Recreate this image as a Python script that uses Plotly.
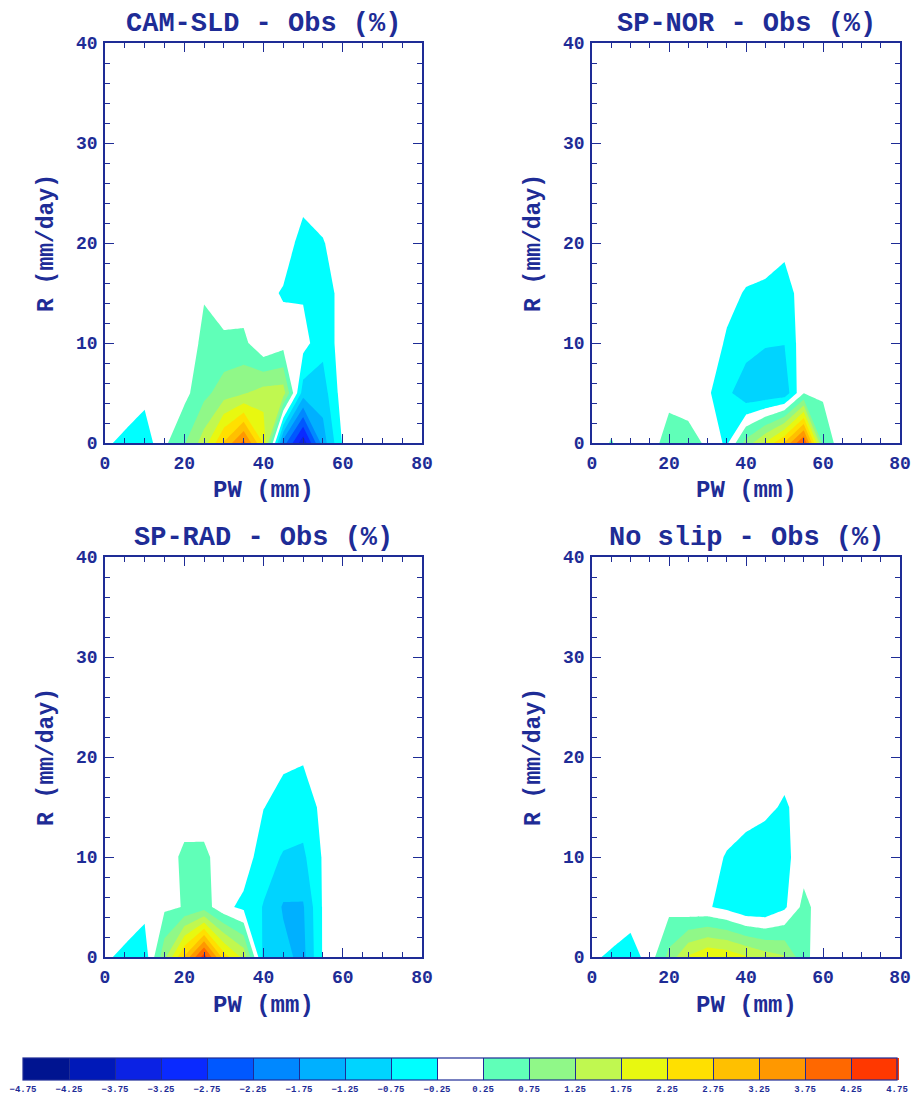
import plotly.graph_objects as go

# ---------------- data ----------------
PW = [0, 5, 10, 15, 20, 25, 30, 35, 40, 45, 50, 55, 60, 65, 70, 75, 80]   # mm
R = [0, 5, 10, 15, 20, 25, 30, 35, 40]                                     # mm/day

x_ticks = [0, 20, 40, 60, 80]
y_ticks = [0, 10, 20, 30, 40]

levels = [-4.75, -4.25, -3.75, -3.25, -2.75, -2.25, -1.75, -1.25, -0.75, -0.25,
          0.25, 0.75, 1.25, 1.75, 2.25, 2.75, 3.25, 3.75, 4.25, 4.75]
level_labels = ["\u22124.75", "\u22124.25", "\u22123.75", "\u22123.25", "\u22122.75",
                "\u22122.25", "\u22121.75", "\u22121.25", "\u22120.75", "\u22120.25",
                "0.25", "0.75", "1.25", "1.75", "2.25", "2.75", "3.25", "3.75",
                "4.25", "4.75"]
band_colors = ["#001490", "#0019B8", "#0B22E4", "#0A2AFF", "#0058FF", "#0088FF",
               "#00B0FF", "#00D4FF", "#00FFFF", "#FFFFFF", "#60FFB8", "#90F888",
               "#C0F850", "#E8F810", "#FFE000", "#FFC000", "#FF9800", "#FF6800",
               "#FF3800"]

titles = ["CAM-SLD - Obs (%)", "SP-NOR - Obs (%)", "SP-RAD - Obs (%)", "No slip - Obs (%)"]
x_title = "PW (mm)"
y_title = "R (mm/day)"


def row(vals):
    return vals + [0.0] * (len(PW) - len(vals))


# difference (%) on the PW x R grid; rows are R = 0, 5, 10, ...
cam_sld = [
    row([-0.17, -0.37, -0.55, 0.15, 0.70, 1.5, 2.8, 3.9, 2.2, -2.0, -3.6, -1.5, -0.2]),
    row([0.0, 0.1, -0.1, 0.0, 0.1, 0.6, 1.0, 1.2, 1.47, 1.5, -1.0, -1.0, 0.0]),
    row([0.0, 0.0, 0.0, 0.0, 0.0, 0.35, 0.4, 0.4, -0.225, 0.047, -0.053, -0.6, 0.0]),
    row([0.0, 0.0, 0.0, 0.0, 0.0, 0.22, -0.18, -0.1, -0.04, -0.315, -0.31, -0.6, 0.0]),
    row([0.0, 0.0, 0.0, 0.0, 0.0, 0.0, 0.0, 0.0, 0.0, 0.12, -0.52, -0.28, 0.0]),
    row([]), row([]), row([]), row([]),
]

sp_nor = [
    row([0.0, 0.28, 0.0, -0.1, 0.6, 0.6, 0.1, -0.35, 0.95, 1.8, 2.8, 4.3, 0.57]),
    row([0.0, 0.0, 0.0, 0.0, 0.02, -0.195, -0.176, -0.585, -1.175, -1.165, -1.09, 0.22, 0.18]),
    row([0.0, 0.0, 0.0, 0.0, 0.0, 0.0, 0.0, -0.305, -0.467, -0.704, -0.736, 0.074, 0.0]),
    row([0.0, 0.0, 0.0, 0.0, 0.0, 0.0, 0.0, -0.12, -0.284, -0.347, -0.495, 0.0, 0.0]),
    row([0.0, 0.0, 0.0, 0.0, 0.0, 0.0, 0.0, 0.0, 0.0, 0.0, -0.1, 0.0, 0.0]),
    row([]), row([]), row([]), row([]),
]

sp_rad = [
    row([-0.17, -0.37, -0.55, 1.1, 2.8, 4.5, 2.5, 1.6, -0.9, -1.1, -1.4, -0.2, 0.0]),
    row([0.0, 0.1, -0.1, 0.156, 0.27, 0.5, -0.116, -0.37, -0.78, -1.3, -1.3, -0.2, 0.0]),
    row([0.0, 0.0, 0.0, 0.0, 0.357, 0.36, 0.0, 0.0, -0.5, -0.8, -0.85, -0.2, 0.0]),
    row([0.0, 0.0, 0.0, 0.0, 0.0, 0.0, 0.0, 0.0, -0.237, -0.4, -0.5, -0.14, 0.0]),
    row([0.0, 0.0, 0.0, 0.0, 0.0, 0.0, 0.0, 0.0, 0.0, -0.17, -0.2, 0.0, 0.0]),
    row([]), row([]), row([]), row([]),
]

no_slip = [
    row([-0.18, -0.32, -0.54, 0.0, 0.9, 1.8, 2.2, 2.1, 1.8, 1.5, 1.3, 0.37, 0.0]),
    row([0.0, 0.1, 0.06, 0.0, 0.09, -0.14, -0.2, -0.4, -0.7, -0.7, -0.34, 0.4, 0.0]),
    row([0.0, 0.0, 0.0, 0.0, 0.0, 0.0, 0.0, -0.3, -0.5, -0.65, -0.38, 0.0, 0.0]),
    row([0.0, 0.0, 0.0, 0.0, 0.0, 0.0, 0.0, 0.1, 0.0, -0.1, -0.33, 0.0, 0.0]),
    row([]), row([]), row([]), row([]), row([]),
]

panels = [cam_sld, sp_nor, sp_rad, no_slip]

# ---------------- style / layout ----------------
OFF = 8                      # default page body margin
W, H = 919 - 2 * OFF, 1105 - 2 * OFF
NAVY = "#1E2C96"
FONT = "Liberation Mono"


def fx(p):
    return (p - OFF) / W


def fy(p):
    return 1 - (p - OFF) / H


# panel boxes in window pixels: (left, right, top, bottom)
boxes = [(105, 422, 43, 443), (592, 900, 43, 443),
         (105, 422, 557, 957), (592, 900, 557, 957)]

n = len(band_colors)
colorscale = []
for i, c in enumerate(band_colors):
    colorscale.append([i / n, c])
    colorscale.append([(i + 1) / n, c])

fig = go.Figure()
for k, z in enumerate(panels):
    sfx = "" if k == 0 else str(k + 1)
    fig.add_trace(go.Contour(
        x=PW, y=R, z=z,
        zmin=levels[0], zmax=levels[-1], zauto=False,
        colorscale=colorscale, autocontour=False,
        contours=dict(start=levels[0], end=levels[-1], size=0.5,
                      coloring="fill", showlines=False),
        line=dict(width=0, smoothing=0),
        showscale=(k == 0),
        colorbar=dict(
            orientation="h", x=fx(460), xanchor="center",
            y=fy(1058), yanchor="top",
            len=874 / W, lenmode="fraction",
            thickness=22, thicknessmode="pixels",
            outlinecolor=NAVY, outlinewidth=1.2,
            tickmode="array", tickvals=levels, ticktext=level_labels,
            ticks="inside", ticklen=22, tickcolor=NAVY, tickwidth=1,
            ticklabeloverflow="allow",
            tickfont=dict(family=FONT, size=9, color=NAVY, weight="bold"),
            xpad=0, ypad=0,
        ),
        xaxis="x" + sfx, yaxis="y" + sfx,
        hoverinfo="skip",
    ))

layout = dict(
    width=W, height=H,
    margin=dict(l=0, r=0, t=0, b=0, autoexpand=False),
    paper_bgcolor="white", plot_bgcolor="white",
    showlegend=False,
    annotations=[],
)

for k, (l, r, t, b) in enumerate(boxes):
    sfx = "" if k == 0 else str(k + 1)
    common = dict(
        ticks="inside", tickcolor=NAVY, tickwidth=1.3,
        showline=True, linecolor=NAVY, linewidth=1.5, mirror="allticks",
        showgrid=False, zeroline=False, fixedrange=True,
        tickfont=dict(family=FONT, size=18, color=NAVY, weight="bold"),
    )
    layout["xaxis" + sfx] = dict(
        domain=[fx(l), fx(r)], range=[0, 80], anchor="y" + sfx,
        tickmode="array", tickvals=x_ticks, ticklen=9,
        minor=dict(dtick=5, tick0=0, ticks="inside", ticklen=5,
                   tickcolor=NAVY, tickwidth=1.3),
        ticklabelstandoff=3,
        **common)
    layout["yaxis" + sfx] = dict(
        domain=[fy(b), fy(t)], range=[0, 40], anchor="x" + sfx,
        tickmode="array", tickvals=y_ticks, ticklen=9,
        minor=dict(dtick=2, tick0=0, ticks="inside", ticklen=5,
                   tickcolor=NAVY, tickwidth=1.3),
        ticklabelstandoff=2,
        **common)
    cx = (l + r) / 2
    layout["annotations"].append(dict(
        text=titles[k], x=fx(cx), y=fy(t - 19), xref="paper", yref="paper",
        showarrow=False, xanchor="center", yanchor="middle",
        font=dict(family=FONT, size=27, color=NAVY, weight="bold")))
    layout["annotations"].append(dict(
        text=x_title, x=fx(cx), y=fy(b + 48), xref="paper", yref="paper",
        showarrow=False, xanchor="center", yanchor="middle",
        font=dict(family=FONT, size=24, color=NAVY, weight="bold")))
    layout["annotations"].append(dict(
        text=y_title, x=fx(l - 58), y=fy((t + b) / 2), xref="paper", yref="paper",
        showarrow=False, xanchor="center", yanchor="middle", textangle=-90,
        font=dict(family=FONT, size=23, color=NAVY, weight="bold")))

fig.update_layout(**layout)
fig.write_html("out.html")
